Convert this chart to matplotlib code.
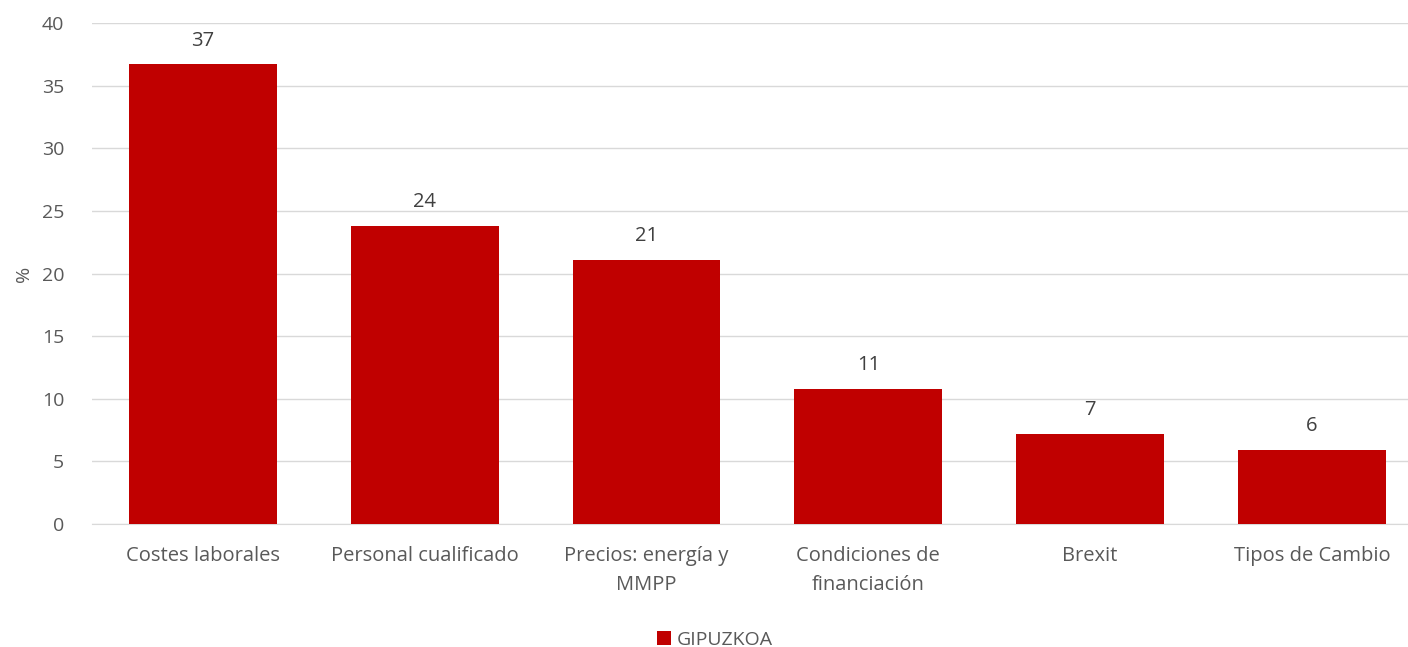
import matplotlib.pyplot as plt
import numpy as np

categories = ["Costes laborales", "Personal cualificado", "Precios: energía y\nMMPP",
              "Condiciones de\nfinanciación", "Brexit", "Tipos de Cambio"]
values = [36.7, 23.8, 21.1, 10.8, 7.2, 5.9]
series_name = "GIPUZKOA"

plt.rcParams['font.family'] = ['Open Sans', 'DejaVu Sans']
grey = '#595959'
dark = '#404040'
red = '#C00000'

fig = plt.figure(figsize=(14.08, 6.47), dpi=100)
ax = fig.add_axes([0.0653, 0.19, 0.9347, 0.7745])

x = np.arange(len(categories))
bars = ax.bar(x, values, width=0.667, color=red, label=series_name, zorder=3)
for xi, v in zip(x, values):
    ax.text(xi, v + 1.1, f"{v:.0f}", ha='center', va='bottom', fontsize=14.5, color=dark)

ax.set_xlim(-0.5, 5.433)
ax.set_ylim(0, 40)
ax.set_yticks(range(0, 41, 5))
ax.set_xticks(x)
ax.set_xticklabels(categories, fontsize=14.5, color=grey, linespacing=1.55)
ax.tick_params(axis='y', labelsize=14, colors=grey, length=0, pad=20)
ax.tick_params(axis='x', length=0, pad=16)
ax.grid(axis='y', color='#D9D9D9', linewidth=1, zorder=0)
for s in ['top', 'right', 'left']:
    ax.spines[s].set_visible(False)
ax.spines['bottom'].set_color('#D9D9D9')
ax.set_ylabel('%', fontsize=14, color=grey, labelpad=6)

fig.legend(handles=[bars], labels=[series_name], loc='center', bbox_to_anchor=(0.508, 0.011),
           frameon=False, fontsize=14, labelcolor=grey, handlelength=0.7, handleheight=0.7,
           handletextpad=0.3)

fig.savefig('out.png', dpi=100)
